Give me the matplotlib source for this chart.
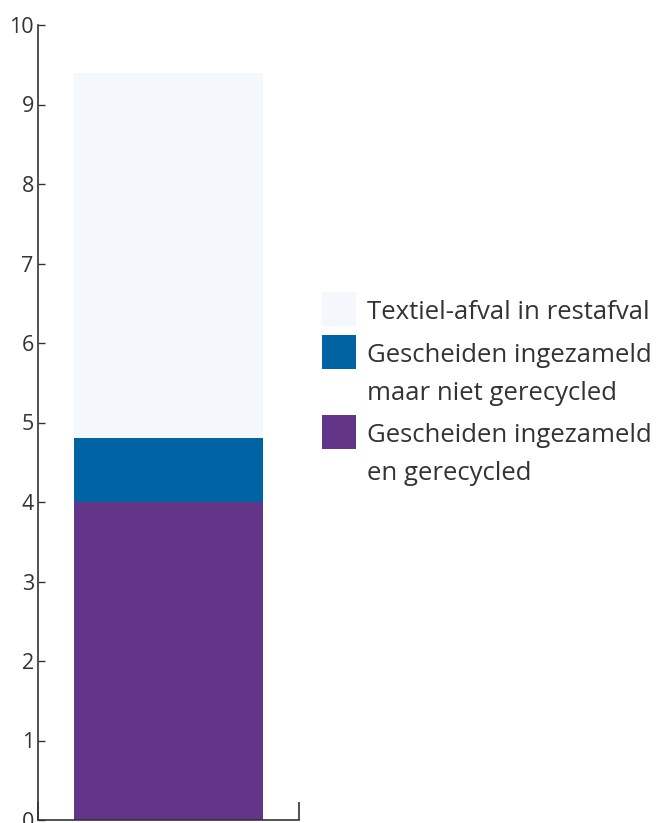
import matplotlib
matplotlib.use("Agg")
import matplotlib.pyplot as plt
from matplotlib.patches import Rectangle

plt.rcParams['font.family'] = ['Open Sans', 'DejaVu Sans']

# data
categories = ["Textiel"]
series_names = [
    "Gescheiden ingezameld\nen gerecycled",
    "Gescheiden ingezameld\nmaar niet gerecycled",
    "Textiel-afval in restafval",
]
series_values = [
    [4.0],
    [0.8],
    [4.6],
]
colors = ["#633589", "#0063a3", "#f4f8fd"]
yticks = list(range(0, 11))

text_col = "#333333"

fig = plt.figure(figsize=(6.57, 8.23), dpi=100)
ax = fig.add_axes([38 / 657, 3 / 823, (299 - 38) / 657, (820 - 25) / 823])

bottom = [0.0] * len(categories)
for vals, col in zip(series_values, colors):
    ax.bar([0], vals, width=0.724, bottom=bottom, color=col, linewidth=0)
    bottom = [b + v for b, v in zip(bottom, vals)]

ax.set_xlim(-0.5, 0.5)
ax.set_ylim(0, 10)
ax.set_yticks(yticks)
ax.set_yticklabels([str(t) for t in yticks], fontsize=15.5, color=text_col)
ax.set_xticks([-0.5, 0.5])
ax.set_xticklabels([])
ax.tick_params(axis='y', direction='in', length=5, width=1, color=text_col, pad=3)
ax.tick_params(axis='x', direction='in', length=13, width=1.2, color=text_col)
for s in ['top', 'right']:
    ax.spines[s].set_visible(False)
for s in ['left', 'bottom']:
    ax.spines[s].set_color(text_col)
    ax.spines[s].set_linewidth(1.2)

# legend, drawn by hand so the square sits next to the first line
W, H = 657, 823
entries = list(zip(series_names, colors))[::-1]
tops = [292, 335, 415]
for (label, col), top in zip(entries, tops):
    fig.patches.append(Rectangle((322 / W, 1 - (top + 34) / H), 34 / W, 34 / H,
                                 transform=fig.transFigure, facecolor=col,
                                 edgecolor='none'))
    fig.text(367 / W, 1 - (top + 8) / H, label, fontsize=18.5, color=text_col,
             va='top', ha='left', linespacing=1.68)

fig.savefig("out.png", dpi=100)
